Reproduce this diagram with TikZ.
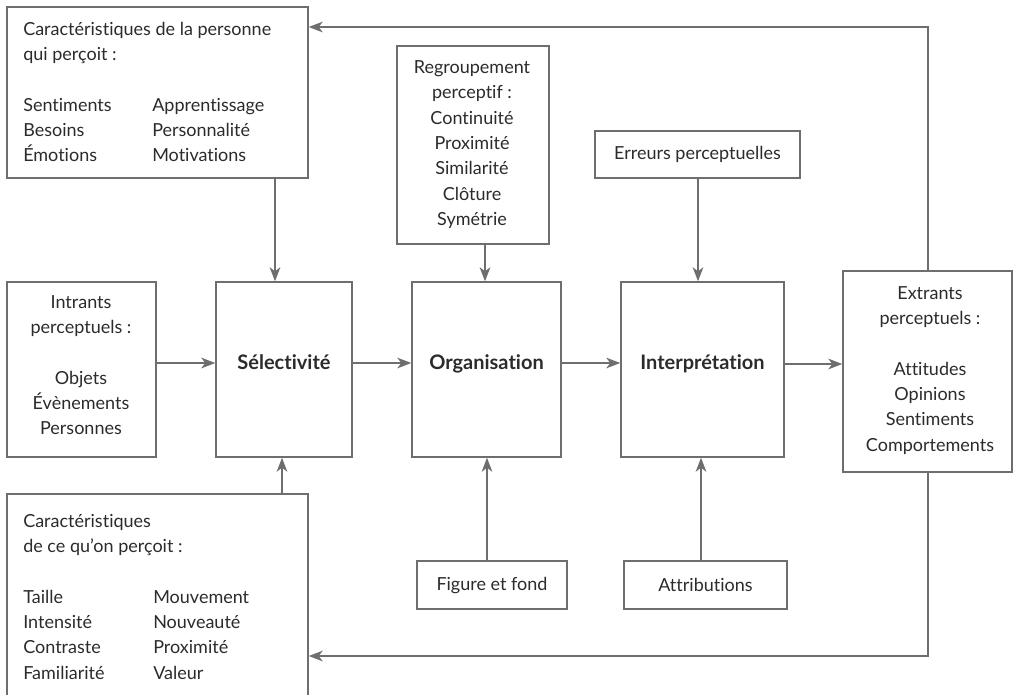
\documentclass[tikz,border=0pt]{standalone}
\usepackage{fontspec}
\setmainfont{Lato}[Ligatures={TeX,NoCommon}]
\usetikzlibrary{arrows.meta}
\newdimen\pxu \pxu=0.75pt
\definecolor{linegray}{HTML}{6E6E6E}
\definecolor{textgray}{HTML}{2B2B2B}
\begin{document}
\begin{tikzpicture}[x=0.75pt,y=-0.75pt,
  box/.style={draw=linegray, line width=1.1pt, inner sep=0pt,
    text=textgray, font=\fontsize{13.5}{19}\selectfont},
  txt/.style={text=textgray, inner sep=0pt, font=\fontsize{13.5}{19}\selectfont},
  title/.style={text=textgray, inner sep=0pt, font=\fontsize{15}{19}\selectfont\bfseries},
  arr/.style={draw=linegray, line width=1.1pt,
    -{Stealth[length=10.5pt,width=8pt,inset=3pt]}}]
\clip (0,0) rectangle (1013,694);

% ---- boxes ----
\node[box, minimum width=301\pxu, minimum height=171\pxu] (p1) at (157.5,92.5) {};
\node[box, minimum width=152\pxu, minimum height=198\pxu] (reg) at (473,145) {};
\node[box, minimum width=205\pxu, minimum height=47\pxu] (err) at (697.5,154.5) {Erreurs perceptuelles};
\node[box, minimum width=149\pxu, minimum height=175\pxu] (intr) at (81.5,369.5) {};
\node[box, minimum width=136\pxu, minimum height=175\pxu] (sel) at (284,369.5) {};
\node[box, minimum width=149\pxu, minimum height=175\pxu] (org) at (486.5,369.5) {};
\node[box, minimum width=163\pxu, minimum height=175\pxu] (int) at (702.5,369.5) {};
\node[box, minimum width=169\pxu, minimum height=201\pxu] (ext) at (927.5,371.5) {};
\node[box, minimum width=150\pxu, minimum height=48\pxu] (fig) at (492,585) {Figure et fond};
\node[box, minimum width=163\pxu, minimum height=48\pxu] (att) at (705.5,585) {Attributions};
\node[box, minimum width=301\pxu, minimum height=216\pxu] (p2) at (157.5,602) {};

% ---- box contents ----
\node[txt, anchor=west] (p1t) at (23,93.5) {\begin{tabular}{@{}p{96.75pt}@{}l@{}}
  \multicolumn{2}{@{}l@{}}{Caractéristiques de la personne}\\
  \multicolumn{2}{@{}l@{}}{qui perçoit~:}\\[19pt]
  Sentiments & Apprentissage\\
  Besoins & Personnalité\\
  Émotions & Motivations
\end{tabular}};

\node[txt] (regt) at (472,144.5) {\begin{tabular}{@{}c@{}}
  Regroupement\\ perceptif~:\\ Continuité\\ Proximité\\ Similarité\\ Clôture\\ Symétrie
\end{tabular}};

\node[txt] (intrt) at (81,366.5) {\begin{tabular}{@{}c@{}}
  Intrants\\ perceptuels~:\\[19pt] Objets\\ Évènements\\ Personnes
\end{tabular}};

\node[txt] (extt) at (930,370) {\begin{tabular}{@{}c@{}}
  Extrants\\ perceptuels~:\\[19pt] Attitudes\\ Opinions\\ Sentiments\\ Comportements
\end{tabular}};

\node[txt, anchor=west] (p2t) at (23,598) {\begin{tabular}{@{}p{97.5pt}@{}l@{}}
  \multicolumn{2}{@{}l@{}}{Caractéristiques}\\
  \multicolumn{2}{@{}l@{}}{de ce qu’on perçoit~:}\\[19pt]
  Taille & Mouvement\\
  Intensité & Nouveauté\\
  Contraste & Proximité\\
  Familiarité & Valeur
\end{tabular}};

\node[title, anchor=base] (selt) at (284,369.5) {Sélectivité};
\node[title, anchor=base] (orgt) at (486.5,369.5) {Organisation};
\node[title, anchor=base] (intt) at (702.5,369.5) {Interprétation};

% ---- main flow ----
\draw[arr] (intr.east |- 0,363) -- (sel.west |- 0,363);
\draw[arr] (sel.east |- 0,363) -- (org.west |- 0,363);
\draw[arr] (org.east |- 0,363) -- (int.west |- 0,363);
\draw[arr] (int.east |- 0,364) -- (ext.west |- 0,364);

% ---- influences from above and below ----
\draw[arr] (p1.south -| 275,0) -- (sel.north -| 275,0);
\draw[arr] (reg.south -| 485,0) -- (org.north -| 485,0);
\draw[arr] (err.south -| 698,0) -- (int.north -| 698,0);
\draw[arr] (p2.north -| 282,0) -- (sel.south -| 282,0);
\draw[arr] (fig.north -| 487,0) -- (org.south -| 487,0);
\draw[arr] (att.north -| 701,0) -- (int.south -| 701,0);

% ---- feedback loops ----
\draw[arr] (ext.north -| 928,0) |- (p1.east |- 0,27);
\draw[arr] (ext.south -| 928,0) |- (p2.east |- 0,656);
\end{tikzpicture}
\end{document}
